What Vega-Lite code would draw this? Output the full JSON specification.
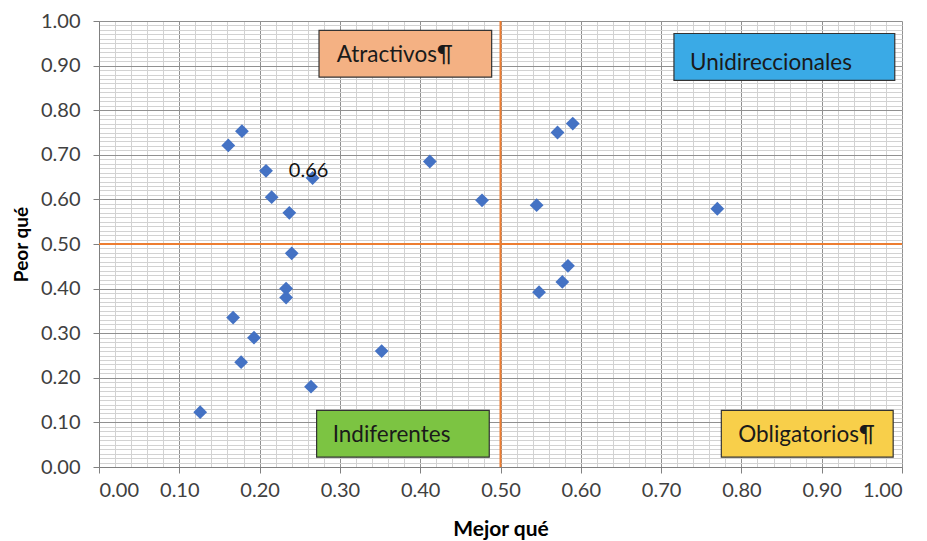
{
  "$schema": "https://vega.github.io/schema/vega-lite/v6.json",
  "width": 803,
  "height": 446,
  "autosize": {"type": "none"},
  "padding": {"left": 99, "top": 21, "right": 25, "bottom": 74},
  "background": "white",
  "config": {"view": {"stroke": null}, "font": "Lato"},
  "datasets": {
    "points": [
      {"mejor": 0.126, "peor": 0.123},
      {"mejor": 0.161, "peor": 0.721},
      {"mejor": 0.178, "peor": 0.753},
      {"mejor": 0.208, "peor": 0.664},
      {"mejor": 0.215, "peor": 0.605},
      {"mejor": 0.237, "peor": 0.570},
      {"mejor": 0.266, "peor": 0.648},
      {"mejor": 0.240, "peor": 0.479},
      {"mejor": 0.233, "peor": 0.400},
      {"mejor": 0.233, "peor": 0.380},
      {"mejor": 0.167, "peor": 0.335},
      {"mejor": 0.193, "peor": 0.290},
      {"mejor": 0.177, "peor": 0.235},
      {"mejor": 0.264, "peor": 0.180},
      {"mejor": 0.352, "peor": 0.260},
      {"mejor": 0.412, "peor": 0.685},
      {"mejor": 0.477, "peor": 0.598},
      {"mejor": 0.571, "peor": 0.750},
      {"mejor": 0.590, "peor": 0.770},
      {"mejor": 0.545, "peor": 0.587},
      {"mejor": 0.770, "peor": 0.579},
      {"mejor": 0.584, "peor": 0.451},
      {"mejor": 0.577, "peor": 0.415},
      {"mejor": 0.548, "peor": 0.392}
    ],
    "boxes": [
      {"name": "Atractivos¶", "x1": 0.274, "x2": 0.489, "y1": 0.874, "y2": 0.979, "tx": 0.296, "ty": 0.923},
      {"name": "Unidireccionales", "x1": 0.716, "x2": 0.991, "y1": 0.867, "y2": 0.972, "tx": 0.736, "ty": 0.906},
      {"name": "Indiferentes", "x1": 0.271, "x2": 0.486, "y1": 0.022, "y2": 0.127, "tx": 0.291, "ty": 0.071},
      {"name": "Obligatorios¶", "x1": 0.775, "x2": 0.989, "y1": 0.022, "y2": 0.127, "tx": 0.796, "ty": 0.071}
    ],
    "label": [{"mejor": 0.266, "peor": 0.648, "t": "0.66"}],
    "thresholds": [{"v": 0.5}]
  },
  "layer": [
    {
      "data": {"name": "points"},
      "mark": {"type": "point", "opacity": 0},
      "encoding": {
        "x": {"field": "mejor", "type": "quantitative", "scale": {"domain": [0, 1], "nice": false},
          "axis": {"orient": "top", "grid": true, "gridColor": "#d2d2d2", "gridWidth": 1, "tickCount": 50, "labels": false, "ticks": false, "domain": false, "title": null}},
        "y": {"field": "peor", "type": "quantitative", "scale": {"domain": [0, 1], "nice": false},
          "axis": {"orient": "right", "grid": true, "gridColor": "#d2d2d2", "gridWidth": 1, "tickCount": 100, "labels": false, "ticks": false, "domain": false, "title": null}}
      }
    },
    {
      "data": {"name": "boxes"},
      "mark": {"type": "rect", "stroke": "#333333", "strokeWidth": 1.2},
      "encoding": {
        "x": {"field": "x1", "type": "quantitative", "axis": null},
        "x2": {"field": "x2"},
        "y": {"field": "y1", "type": "quantitative", "axis": null},
        "y2": {"field": "y2"},
        "fill": {"field": "name", "type": "nominal", "legend": null,
          "scale": {"domain": ["Atractivos¶", "Unidireccionales", "Indiferentes", "Obligatorios¶"],
                    "range": ["#F4B183", "#3AAAE6", "#7CC442", "#F8CF4A"]}}
      }
    },
    {
      "data": {"name": "boxes"},
      "mark": {"type": "text", "align": "left", "baseline": "middle", "fontSize": 22.5, "color": "#1a1a1a", "font": "Lato"},
      "encoding": {
        "x": {"field": "tx", "type": "quantitative", "axis": null},
        "y": {"field": "ty", "type": "quantitative", "axis": null},
        "text": {"field": "name"}
      }
    },
    {
      "data": {"name": "thresholds"},
      "mark": {"type": "rule", "color": "#ED7D31", "strokeWidth": 2},
      "encoding": {"x": {"field": "v", "type": "quantitative", "axis": null}}
    },
    {
      "data": {"name": "thresholds"},
      "mark": {"type": "rule", "color": "#ED7D31", "strokeWidth": 2},
      "encoding": {"y": {"field": "v", "type": "quantitative", "axis": null}}
    },
    {
      "data": {"name": "points"},
      "mark": {"type": "point", "shape": "diamond", "filled": true, "size": 190, "color": "#4472C4", "opacity": 1},
      "encoding": {
        "x": {"field": "mejor", "type": "quantitative", "scale": {"domain": [0, 1], "nice": false},
          "axis": {"orient": "bottom", "title": "Mejor qué", "format": ".2f", "tickCount": 10, "grid": true, "gridColor": "#909090", "gridWidth": 1,
            "domainColor": "#808080", "tickColor": "#808080", "tickSize": 6, "labelFontSize": 20, "labelColor": "#404040",
            "labelPadding": 7, "titleFontSize": 21, "titleFontWeight": "bold", "titleColor": "#000000", "titlePadding": 18, "labelFont": "Lato", "titleFont": "Lato"}},
        "y": {"field": "peor", "type": "quantitative", "scale": {"domain": [0, 1], "nice": false},
          "axis": {"orient": "left", "title": "Peor qué", "format": ".2f", "tickCount": 10, "grid": true, "gridColor": "#909090", "gridWidth": 1,
            "domainColor": "#808080", "tickColor": "#808080", "tickSize": 6, "labelFontSize": 20, "labelColor": "#404040",
            "labelPadding": 13, "titleFontSize": 19, "titleFontWeight": "bold", "titleColor": "#000000", "titlePadding": 9, "labelFont": "Lato", "titleFont": "Lato"}}
      }
    },
    {
      "data": {"name": "label"},
      "mark": {"type": "text", "align": "center", "baseline": "middle", "dx": -4, "dy": -7, "fontSize": 20, "color": "#111111", "font": "Lato"},
      "encoding": {
        "x": {"field": "mejor", "type": "quantitative", "axis": null},
        "y": {"field": "peor", "type": "quantitative", "axis": null},
        "text": {"field": "t"}
      }
    }
  ],
  "resolve": {"axis": {"x": "independent", "y": "independent"}}
}
